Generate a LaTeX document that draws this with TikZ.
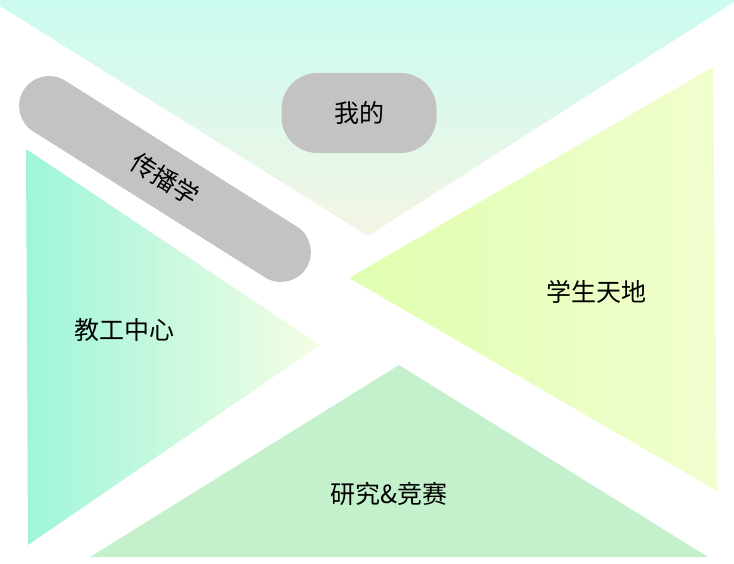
\documentclass[tikz,border=0pt]{standalone}
\usepackage{fontspec}
\setmainfont{Noto Sans CJK SC}
\definecolor{topmint}{RGB}{203,251,241}
\definecolor{topbeige}{RGB}{243,245,228}
\definecolor{leftaqua}{RGB}{158,245,218}
\definecolor{leftpale}{RGB}{246,253,228}
\definecolor{rightlime}{RGB}{220,255,168}
\definecolor{rightpale}{RGB}{249,253,222}
\definecolor{bottomgreen}{RGB}{196,241,204}
\definecolor{pillgray}{RGB}{195,195,195}
\pgfdeclarehorizontalshading{studentshade}{100bp}{%
  color(0bp)=(white); color(4bp)=(rightlime); color(30bp)=(rightlime!80!rightpale);
  color(100bp)=(rightpale)}
\tikzset{
  label text/.style={font=\fontsize{25}{30}\selectfont,text=black},
  pill/.style={label text,fill=pillgray,rounded corners=#1,inner sep=0pt}
}

\begin{document}
\begin{tikzpicture}[x=1pt,y=-1pt,line join=round]
  \useasboundingbox (0,0) rectangle (734,564);
  % top triangle
  \coordinate (T1) at (0,6);
  \coordinate (T2) at (737,0);
  \coordinate (T3) at (368,236);
  \shade[top color=topmint,bottom color=topbeige] (0,0) -- (T2) -- (T3) -- (T1) -- cycle;
  % left triangle
  \coordinate (L1) at (26,149);
  \coordinate (L2) at (28,545);
  \coordinate (L3) at (320,345);
  \shade[left color=leftaqua,right color=leftpale] (L1) -- (L3) -- (L2) -- cycle;
  % right triangle
  \coordinate (R1) at (349,278);
  \coordinate (R2) at (713,67);
  \coordinate (R3) at (717,491);
  \shade[shading=studentshade] (R1) -- (R2) -- (R3) -- cycle;
  % bottom triangle
  \coordinate (B1) at (90,557);
  \coordinate (B2) at (708,557);
  \coordinate (B3) at (399,365);
  \fill[bottomgreen] (B1) -- (B3) -- (B2) -- cycle;
  % pills
  \node[pill=36pt,minimum width=155pt,minimum height=80pt] (mine) at (359,113) {我的};
  \node[pill=30pt,minimum width=334pt,minimum height=60pt,rotate=-32.2] (media) at (165,179) {传播学};
  % labels
  \node[label text] (staff) at (124,330) {教工中心};
  \node[label text] (student) at (596,292) {学生天地};
  \node[label text] (research) at (389,494) {研究\&竞赛};
\end{tikzpicture}
\end{document}
